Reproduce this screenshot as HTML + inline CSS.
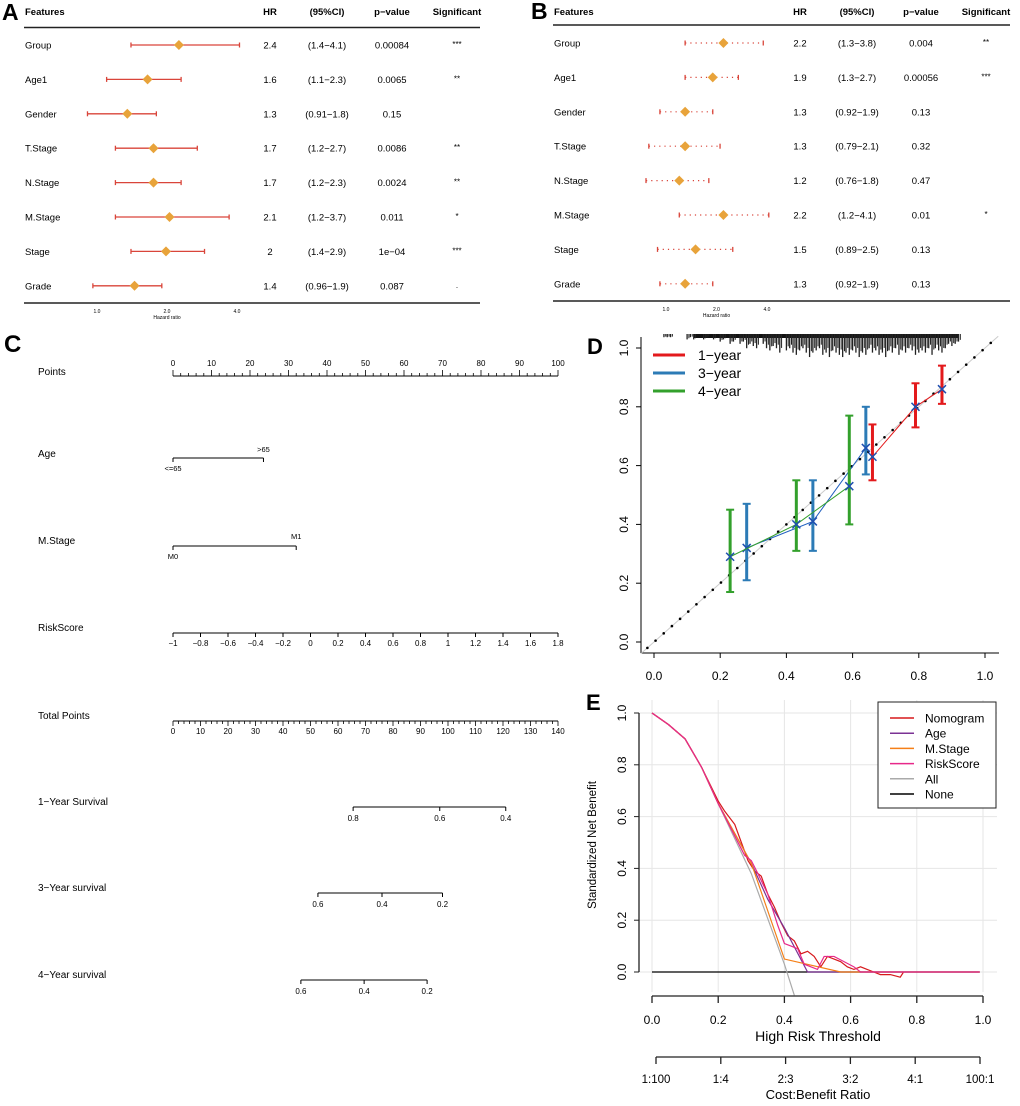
<!DOCTYPE html>
<html><head><meta charset="utf-8"><style>
html,body{margin:0;padding:0;background:#fff;}
svg{display:block;font-family:"Liberation Sans",Arial,sans-serif;}
</style></head><body>
<svg id="fig" width="1020" height="1106" viewBox="0 0 1020 1106">
<g id="pA"></g>
<g id="pB"></g>
<g id="pC"></g>
<g id="pD"></g>
<g id="pE"></g>
</svg>
<script>
// ---------- Forest data ----------
const featuresA = ["Group","Age1","Gender","T.Stage","N.Stage","M.Stage","Stage","Grade"];
const hrA = [2.4,1.6,1.3,1.7,1.7,2.1,2,1.4];
const hrPlotA = [2.25,1.65,1.35,1.75,1.75,2.05,1.98,1.45];
const loA = [1.4,1.1,0.91,1.2,1.2,1.2,1.4,0.96];
const hiA = [4.1,2.3,1.8,2.7,2.3,3.7,2.9,1.9];
const ciA = ["(1.4\u22124.1)","(1.1\u22122.3)","(0.91\u22121.8)","(1.2\u22122.7)","(1.2\u22122.3)","(1.2\u22123.7)","(1.4\u22122.9)","(0.96\u22121.9)"];
const pA = ["0.00084","0.0065","0.15","0.0086","0.0024","0.011","1e\u221204","0.087"];
const sigA = ["***","**","","**","**","*","***","."];
const hrB = [2.2,1.9,1.3,1.3,1.2,2.2,1.5,1.3];
const loB = [1.3,1.3,0.92,0.79,0.76,1.2,0.89,0.92];
const hiB = [3.8,2.7,1.9,2.1,1.8,4.1,2.5,1.9];
const ciB = ["(1.3\u22123.8)","(1.3\u22122.7)","(0.92\u22121.9)","(0.79\u22122.1)","(0.76\u22121.8)","(1.2\u22124.1)","(0.89\u22122.5)","(0.92\u22121.9)"];
const pB = ["0.004","0.00056","0.13","0.32","0.47","0.01","0.13","0.13"];
const sigB = ["**","***","","","","*","",""];
const forestTicks = [1,2,4];

// ---------- Nomogram data ----------
const nomoRows = ["Points","Age","M.Stage","RiskScore","Total Points","1\u2212Year Survival","3\u2212Year survival","4\u2212Year survival"];
const ageLevels = ["<=65",">65"]; const agePoints = [0,23.5];
const mLevels = ["M0","M1"]; const mPoints = [0,32];
const riskTicks = [-1,-0.8,-0.6,-0.4,-0.2,0,0.2,0.4,0.6,0.8,1,1.2,1.4,1.6,1.8];
const surv1Labels = ["0.8","0.6","0.4"]; const surv1Total = [65.5,97,121];
const surv3Labels = ["0.6","0.4","0.2"]; const surv3Total = [52.7,76,98];
const surv4Labels = ["0.6","0.4","0.2"]; const surv4Total = [46.5,69.5,92.4];

// ---------- Calibration data ----------
const calNames = ["1\u2212year","3\u2212year","4\u2212year"];
const cal1x=[0.66,0.79,0.87], cal1y=[0.63,0.80,0.86], cal1lo=[0.55,0.73,0.81], cal1hi=[0.74,0.88,0.94];
const cal3x=[0.28,0.48,0.64], cal3y=[0.32,0.41,0.66], cal3lo=[0.21,0.31,0.57], cal3hi=[0.47,0.55,0.80];
const cal4x=[0.23,0.43,0.59], cal4y=[0.29,0.40,0.53], cal4lo=[0.17,0.31,0.40], cal4hi=[0.45,0.55,0.77];
const rugX=[0.03,0.04,0.05,0.1,0.11,0.12,0.15,0.16,0.18,0.2,0.21,0.23,0.24,0.26,0.27,0.28,0.29,0.3,0.31,0.33,0.34,0.35,0.36,0.37,0.38,0.4,0.41,0.42,0.43,0.44,0.45,0.46,0.47,0.48,0.49,0.5,0.51,0.52,0.53,0.54,0.55,0.56,0.57,0.58,0.59,0.6,0.61,0.62,0.63,0.64,0.65,0.66,0.67,0.68,0.69,0.7,0.71,0.72,0.73,0.74,0.75,0.76,0.77,0.78,0.79,0.8,0.81,0.82,0.83,0.84,0.85,0.86,0.87,0.88,0.89,0.9,0.91,0.92];
const rugH=[0.005,0.005,0.005,0.01,0.005,0.01,0.01,0.005,0.01,0.015,0.01,0.02,0.015,0.02,0.015,0.03,0.02,0.025,0.03,0.02,0.03,0.035,0.025,0.03,0.04,0.035,0.03,0.04,0.045,0.035,0.03,0.04,0.05,0.04,0.035,0.03,0.045,0.04,0.05,0.035,0.04,0.045,0.05,0.04,0.045,0.035,0.04,0.05,0.04,0.045,0.03,0.04,0.035,0.045,0.04,0.05,0.035,0.04,0.03,0.045,0.035,0.04,0.03,0.035,0.045,0.04,0.035,0.04,0.03,0.045,0.03,0.035,0.04,0.03,0.02,0.025,0.02,0.015];

// ---------- DCA data ----------
const dcaNames = ["Nomogram","Age","M.Stage","RiskScore","All","None"];
const dcaColors = ["#d7191c","#7b3294","#f57f17","#e7298a","#aaaaaa","#000000"];
const nomT=[0,0.05,0.1,0.15,0.2,0.22,0.25,0.27,0.29,0.31,0.33,0.35,0.37,0.39,0.41,0.43,0.45,0.47,0.49,0.51,0.53,0.55,0.57,0.59,0.61,0.63,0.65,0.67,0.69,0.72,0.75,0.76];
const nomV=[1,0.955,0.9,0.79,0.66,0.62,0.57,0.50,0.43,0.39,0.37,0.30,0.25,0.19,0.14,0.12,0.07,0.08,0.06,0.02,0.06,0.05,0.04,0.02,0.01,0.02,0.01,0.0,-0.01,-0.01,-0.02,0.0];
const ageT=[0,0.05,0.1,0.15,0.2,0.3,0.35,0.4,0.47,0.99];
const ageV=[1,0.955,0.9,0.79,0.65,0.42,0.28,0.17,0.0,0.0];
const mT=[0,0.05,0.1,0.15,0.2,0.3,0.4,0.57,0.99];
const mV=[1,0.955,0.9,0.79,0.65,0.42,0.05,0.0,0.0];
const rsT=[0,0.05,0.1,0.15,0.2,0.28,0.3,0.32,0.35,0.38,0.40,0.42,0.44,0.46,0.50,0.52,0.55,0.58,0.61,0.63,0.99];
const rsV=[1,0.955,0.9,0.79,0.65,0.45,0.43,0.38,0.30,0.18,0.11,0.10,0.09,0.03,0.01,0.06,0.06,0.04,0.02,0.0,0.0];
const allT=[0,0.05,0.1,0.15,0.2,0.3,0.4,0.43];
const allV=[1,0.955,0.9,0.79,0.65,0.38,0.03,-0.09];
const noneT=[0,0.99], noneV=[0,0];
const dcaTicks=[0,0.2,0.4,0.6,0.8,1.0];
const cbLabels=["1:100","1:4","2:3","3:2","4:1","100:1"];

const NS="http://www.w3.org/2000/svg";
function mk(parent,tag,attrs,text){const e=document.createElementNS(NS,tag);for(const k in attrs)e.setAttribute(k,attrs[k]);if(text!==undefined)e.textContent=text;parent.appendChild(e);return e;}

// ---------- Forest plots ----------
function forest(g,opt,feat,hrT,hrP,lo,hi,ci,pv,sig,dotted){
  const sx=v=>opt.x0+opt.k*Math.log2(v);
  const L=mk(g,"text",{x:opt.lx,y:opt.ly,"font-size":23,"font-weight":"bold"},opt.letter);
  
  
  const hdr=[["Features",opt.fx,"start"],["HR",opt.hrx,"middle"],["(95%CI)",opt.cix,"middle"],["p\u2212value",opt.px,"middle"],["Significant",opt.sx,"middle"]];
  hdr.forEach(h=>{const t=mk(g,"text",{x:h[1],y:15,"font-size":9.5,"font-weight":"bold","text-anchor":h[2]},h[0]);
    
    });
  mk(g,"line",{x1:opt.l1,x2:opt.l2,y1:opt.top,y2:opt.top,stroke:"#222","stroke-width":1.5});
  mk(g,"line",{x1:opt.l1,x2:opt.l2,y1:opt.bot,y2:opt.bot,stroke:"#222","stroke-width":1.5});
  feat.forEach((f,i)=>{
    const y=opt.y0+i*opt.dy;
    const row=mk(g,"g",{});
    
    
    mk(row,"text",{x:opt.fx,y:y+3.5,"font-size":9.5},f);
    mk(row,"text",{x:opt.hrx,y:y+3.5,"font-size":9.5,"text-anchor":"middle"},String(hrT[i]));
    mk(row,"text",{x:opt.cix,y:y+3.5,"font-size":9.5,"text-anchor":"middle"},ci[i]);
    mk(row,"text",{x:opt.px,y:y+3.5,"font-size":9.5,"text-anchor":"middle"},pv[i]);
    mk(row,"text",{x:opt.sx,y:y+2,"font-size":8,"text-anchor":"middle"},sig[i]);
    const a=sx(lo[i]),b=sx(hi[i]);
    const ln=mk(row,"line",{x1:a,x2:b,y1:y,y2:y,stroke:"#d9453a","stroke-width":dotted?1.2:1.3});
    if(dotted)ln.setAttribute("stroke-dasharray","1.2,4");
    mk(row,"line",{x1:a,x2:a,y1:y-2.5,y2:y+2.5,stroke:"#d9453a","stroke-width":1.3});
    mk(row,"line",{x1:b,x2:b,y1:y-2.5,y2:y+2.5,stroke:"#d9453a","stroke-width":1.3});
    const c=sx(hrP[i]);
    const d=mk(row,"polygon",{points:`${c},${y-5} ${c+5},${y} ${c},${y+5} ${c-5},${y}`,fill:"#e8a33a"});
    
    
  });
  forestTicks.forEach(t=>{mk(g,"text",{x:sx(t),y:opt.bot+10,"font-size":5,"text-anchor":"middle"},t.toFixed(1));});
  mk(g,"text",{x:(sx(1)+sx(4))/2,y:opt.bot+16,"font-size":5,"text-anchor":"middle"},"Hazard ratio");
}
forest(document.getElementById("pA"),{letter:"A",lx:2,ly:20,fx:25,hrx:270,cix:327,px:392,sx:457,l1:24,l2:480,top:27.5,bot:303,y0:45,dy:34.4,x0:97,k:70},featuresA,hrA,hrPlotA,loA,hiA,ciA,pA,sigA,false);
forest(document.getElementById("pB"),{letter:"B",lx:531,ly:19,fx:554,hrx:800,cix:857,px:921,sx:986,l1:553,l2:1010,top:25,bot:301,y0:43,dy:34.4,x0:666,k:50.5},featuresA,hrB,hrB,loB,hiB,ciB,pB,sigB,true);

// ---------- Nomogram ----------
(function(){
  const g=document.getElementById("pC");
  const X0=173,X1=558;
  const pts=v=>X0+(X1-X0)*v/100;
  const tot=v=>X0+(X1-X0)*v/140;
  const L=mk(g,"text",{x:4,y:352,"font-size":24,"font-weight":"bold"},"C");
  
  
  const rowY=[377,459,546,633,721,807,893,980];
  nomoRows.forEach((r,i)=>{const t=mk(g,"text",{x:38,y:rowY[i]-2,"font-size":10},r);
    
    });
  const ax=(y,x0,x1)=>mk(g,"line",{x1:x0,x2:x1,y1:y,y2:y,stroke:"#000","stroke-width":1});
  ax(376,X0,X1);
  for(let v=0;v<=100;v+=2){const x=pts(v);mk(g,"line",{x1:x,x2:x,y1:376,y2:v%10==0?370:373,stroke:"#000","stroke-width":0.8});
    if(v%10==0)mk(g,"text",{x:x,y:366,"font-size":8,"text-anchor":"middle"},String(v));}
  ax(458,pts(agePoints[0]),pts(agePoints[1]));
  agePoints.forEach((p,i)=>{const x=pts(p);mk(g,"line",{x1:x,x2:x,y1:458,y2:462,stroke:"#000"});
    mk(g,"text",{x:x,y:i==0?471:452,"font-size":7.5,"text-anchor":"middle"},ageLevels[i]);});
  ax(546,pts(mPoints[0]),pts(mPoints[1]));
  mPoints.forEach((p,i)=>{const x=pts(p);mk(g,"line",{x1:x,x2:x,y1:546,y2:550,stroke:"#000"});
    mk(g,"text",{x:x,y:i==0?559:539,"font-size":7.5,"text-anchor":"middle"},mLevels[i]);});
  const rs=v=>X0+(X1-X0)*(v+1)/2.8;
  ax(633,X0,X1);
  riskTicks.forEach(v=>{const x=rs(v);mk(g,"line",{x1:x,x2:x,y1:633,y2:637,stroke:"#000"});
    mk(g,"text",{x:x,y:646,"font-size":8,"text-anchor":"middle"},String(v).replace("-","\u2212"));});
  ax(721,X0,X1);
  for(let v=0;v<=140;v+=2){const x=tot(v);mk(g,"line",{x1:x,x2:x,y1:721,y2:v%10==0?726:724,stroke:"#000","stroke-width":0.8});
    if(v%10==0)mk(g,"text",{x:x,y:734,"font-size":8,"text-anchor":"middle"},String(v));}
  const surv=(y,tv,lb)=>{ax(y,tot(tv[0]),tot(tv[tv.length-1]));
    tv.forEach((v,i)=>{const x=tot(v);mk(g,"line",{x1:x,x2:x,y1:y,y2:y+4,stroke:"#000"});
      mk(g,"text",{x:x,y:y+14,"font-size":8,"text-anchor":"middle"},lb[i]);});};
  surv(807,surv1Total,surv1Labels);surv(893,surv3Total,surv3Labels);surv(980,surv4Total,surv4Labels);
})();

// ---------- Calibration ----------
(function(){
  const g=document.getElementById("pD");
  const xs=v=>654+331*v, ys=v=>642-294*v;
  const L=mk(g,"text",{x:587,y:354,"font-size":22,"font-weight":"bold"},"D");
  
  
  mk(g,"line",{x1:641,x2:641,y1:337,y2:653,stroke:"#000"});
  mk(g,"line",{x1:641,x2:999,y1:653,y2:653,stroke:"#000"});
  [0,0.2,0.4,0.6,0.8,1.0].forEach(v=>{
    mk(g,"line",{x1:636,x2:641,y1:ys(v),y2:ys(v),stroke:"#000"});
    mk(g,"text",{x:0,y:0,"font-size":12,"text-anchor":"middle",transform:`translate(628,${ys(v)}) rotate(-90)`},v.toFixed(1));
    mk(g,"line",{x1:xs(v),x2:xs(v),y1:653,y2:658,stroke:"#000"});
    mk(g,"text",{x:xs(v),y:680,"font-size":12,"text-anchor":"middle"},v.toFixed(1));
  });
  mk(g,"line",{x1:xs(-0.04),y1:ys(-0.04),x2:xs(1.04),y2:ys(1.04),stroke:"#ccc","stroke-width":1});
  for(let v=-0.02;v<=1.03;v+=0.0247){mk(g,"circle",{cx:xs(v),cy:ys(v),r:1.3,fill:"#000"});}
  const rugG=mk(g,"g",{});
  
  
  mk(rugG,"rect",{x:xs(0.12),y:334,width:xs(0.92)-xs(0.12),height:4,fill:"#111"});
  rugX.forEach((v,i)=>{mk(rugG,"line",{x1:xs(v),x2:xs(v),y1:334,y2:334+1+294*rugH[i]*1.5,stroke:"#222","stroke-width":1.3});
    mk(rugG,"line",{x1:xs(v)+1.8,x2:xs(v)+1.8,y1:334,y2:334+1+294*rugH[i]*1.1,stroke:"#222","stroke-width":1});});
  const series=[[cal1x,cal1y,cal1lo,cal1hi,"#e31a1c"],[cal3x,cal3y,cal3lo,cal3hi,"#2c7bb6"],[cal4x,cal4y,cal4lo,cal4hi,"#33a02c"]];
  series.forEach((s,si)=>{
    const sg=mk(g,"g",{});
    
    
    mk(sg,"polyline",{points:s[0].map((x,i)=>xs(x)+","+ys(s[1][i])).join(" "),fill:"none",stroke:si==0?"#e31a1c":si==1?"#1f5fbf":"#33a02c","stroke-width":1});
    s[0].forEach((x,i)=>{const X=xs(x),a=ys(s[2][i]),b=ys(s[3][i]);
      mk(sg,"line",{x1:X,x2:X,y1:a,y2:b,stroke:s[4],"stroke-width":3});
      mk(sg,"line",{x1:X-4,x2:X+4,y1:a,y2:a,stroke:s[4],"stroke-width":2});
      mk(sg,"line",{x1:X-4,x2:X+4,y1:b,y2:b,stroke:s[4],"stroke-width":2});
      const Y=ys(s[1][i]);
      mk(sg,"path",{d:`M${X-4},${Y-4}L${X+4},${Y+4}M${X-4},${Y+4}L${X+4},${Y-4}`,stroke:"#1f4fb0","stroke-width":1.5});
    });
  });
  const lc=["#e31a1c","#2c7bb6","#33a02c"];
  calNames.forEach((n,i)=>{const y=355+18*i;
    const lg=mk(g,"g",{});
    
    
    mk(lg,"line",{x1:653,x2:685,y1:y,y2:y,stroke:lc[i],"stroke-width":3});
    mk(lg,"text",{x:698,y:y+5,"font-size":14},n);});
})();

// ---------- DCA ----------
(function(){
  const g=document.getElementById("pE");
  const xs=v=>652+331*v, ys=v=>972-259*v;
  const L=mk(g,"text",{x:586,y:710,"font-size":22,"font-weight":"bold"},"E");
  
  
  [0,0.2,0.4,0.6,0.8,1.0].forEach(v=>{
    mk(g,"line",{x1:xs(v),x2:xs(v),y1:700,y2:992,stroke:"#e6e6e6","stroke-width":1});
    mk(g,"line",{x1:639,x2:997,y1:ys(v),y2:ys(v),stroke:"#e6e6e6","stroke-width":1});
  });
  mk(g,"line",{x1:639,x2:639,y1:713,y2:972,stroke:"#222","stroke-width":1.3});
  [0,0.2,0.4,0.6,0.8,1.0].forEach(v=>{
    mk(g,"line",{x1:634,x2:639,y1:ys(v),y2:ys(v),stroke:"#222"});
    mk(g,"text",{x:0,y:0,"font-size":12,"text-anchor":"middle",transform:`translate(626,${ys(v)}) rotate(-90)`},v.toFixed(1));
  });
  const yt=mk(g,"text",{x:0,y:0,"font-size":11.5,"text-anchor":"middle",transform:"translate(596,845) rotate(-90)"},"Standardized Net Benefit");
  
  
  const curves=[[nomT,nomV],[ageT,ageV],[mT,mV],[rsT,rsV],[allT,allV],[noneT,noneV]];
  [5,4,0,1,2,3].forEach(ci=>{const c=curves[ci];
    const pl=mk(g,"polyline",{points:c[0].map((t,i)=>xs(t)+","+ys(c[1][i])).join(" "),fill:"none",stroke:dcaColors[ci],"stroke-width":1.2});
    
    });
  mk(g,"line",{x1:xs(0),x2:xs(1),y1:996,y2:996,stroke:"#222","stroke-width":1.3});
  dcaTicks.forEach(v=>{mk(g,"line",{x1:xs(v),x2:xs(v),y1:996,y2:1003,stroke:"#222","stroke-width":1.3});
    mk(g,"text",{x:xs(v),y:1024,"font-size":12,"text-anchor":"middle"},v.toFixed(1));});
  mk(g,"text",{x:818,y:1041,"font-size":14,"text-anchor":"middle"},"High Risk Threshold");
  const cb=i=>656+64.8*i;
  mk(g,"line",{x1:cb(0),x2:cb(5),y1:1057,y2:1057,stroke:"#222","stroke-width":1.3});
  cbLabels.forEach((l,i)=>{mk(g,"line",{x1:cb(i),x2:cb(i),y1:1057,y2:1064,stroke:"#222","stroke-width":1.3});
    mk(g,"text",{x:cb(i),y:1083,"font-size":11.5,"text-anchor":"middle"},l);});
  mk(g,"text",{x:818,y:1099,"font-size":13,"text-anchor":"middle"},"Cost:Benefit Ratio");
  const lb=mk(g,"rect",{x:878,y:702,width:118,height:106,fill:"#fff",stroke:"#222","stroke-width":1});
  
  
  dcaNames.forEach((n,i)=>{const y=718+15.2*i;
    const e=mk(g,"g",{});
    
    
    mk(e,"line",{x1:890,x2:914,y1:y,y2:y,stroke:dcaColors[i],"stroke-width":1.5});
    mk(e,"text",{x:925,y:y+4.5,"font-size":12},n);});
})();
</script>
</body></html>
